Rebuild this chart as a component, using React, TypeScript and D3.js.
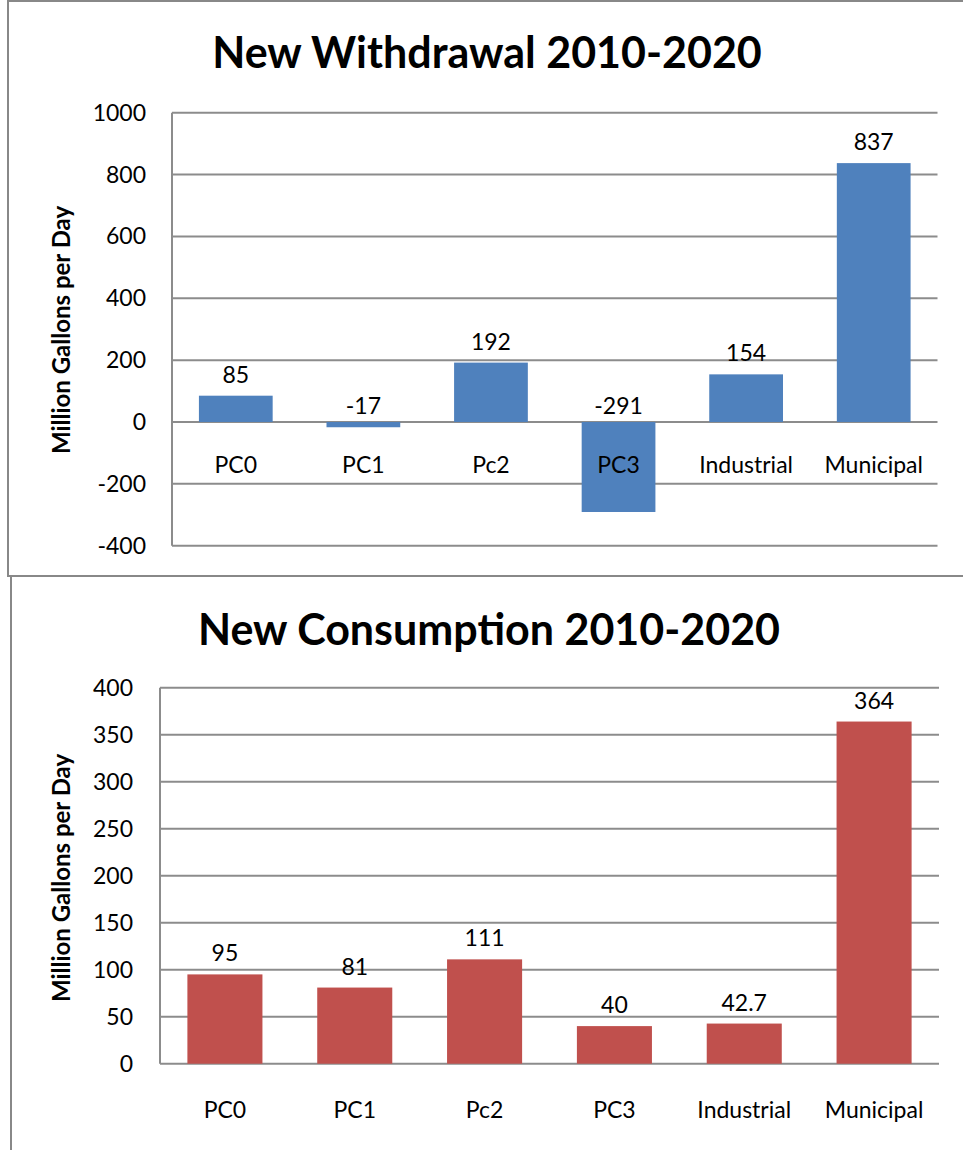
import React from "react";
import * as d3 from "d3";

const categories = ["PC0", "PC1", "Pc2", "PC3", "Industrial", "Municipal"];
const withdrawalValues = [85, -17, 192, -291, 154, 837];
const consumptionValues = [95, 81, 111, 40, 42.7, 364];
const withdrawalTicks = [-400, -200, 0, 200, 400, 600, 800, 1000];
const consumptionTicks = [0, 50, 100, 150, 200, 250, 300, 350, 400];
const withdrawalTitle = "New Withdrawal 2010-2020";
const consumptionTitle = "New Consumption 2010-2020";
const yAxisTitle = "Million Gallons per Day";

const FONT = "Lato, 'Open Sans', sans-serif";
const GRID = "#8c8c8c";

type PanelProps = {
  title: string;
  values: number[];
  ticks: number[];
  color: string;
  x0: number;
  x1: number;
  yTop: number;
  yBottom: number;
  titleX: number;
  titleY: number;
  yTitleY: number;
  tickRight: number;
  catDy: number;
};

function Panel(p: PanelProps) {
  const gap = 0.73;
  const x = d3
    .scaleBand<string>()
    .domain(categories)
    .range([p.x0, p.x1])
    .paddingInner(gap / (1 + gap))
    .paddingOuter(gap / (1 + gap) / 2);
  const y = d3
    .scaleLinear()
    .domain([d3.min(p.ticks)!, d3.max(p.ticks)!])
    .range([p.yBottom, p.yTop]);
  const y0 = y(0);
  const fmt = (v: number) => String(v);
  return (
    <g>
      <text
        x={p.titleX}
        y={p.titleY}
        textAnchor="middle"
        fontFamily={FONT}
        fontWeight="bold"
        fontSize={43}
        fill="#000"
      >
        {p.title}
      </text>
      <text
        transform={`translate(70,${p.yTitleY}) rotate(-90)`}
        textAnchor="middle"
        fontFamily={FONT}
        fontWeight="bold"
        fontSize={24}
        fill="#000"
      >
        {yAxisTitle}
      </text>
      {p.ticks.map((t) => (
        <g key={t}>
          <line x1={p.x0} x2={p.x1} y1={y(t)} y2={y(t)} stroke={GRID} strokeWidth={2} />
          <text
            x={p.tickRight}
            y={y(t)}
            dy="0.35em"
            textAnchor="end"
            fontFamily={FONT}
            fontSize={23}
            fill="#000"
          >
            {fmt(t)}
          </text>
        </g>
      ))}
      <line x1={p.x0} x2={p.x0} y1={p.yTop} y2={p.yBottom} stroke={GRID} strokeWidth={2} />
      {p.values.map((v, i) => {
        const c = categories[i];
        const bx = x(c)!;
        const top = Math.min(y(v), y0);
        const h = Math.abs(y(v) - y0);
        return (
          <rect key={c} x={bx} y={top} width={x.bandwidth()} height={h} fill={p.color} />
        );
      })}
      {p.values.map((v, i) => {
        const c = categories[i];
        const cx = x(c)! + x.bandwidth() / 2;
        const ly = v >= 0 ? y(v) - 21 : y0 - 16;
        return (
          <text
            key={"l" + c}
            x={cx}
            y={ly}
            dy="0.35em"
            textAnchor="middle"
            fontFamily={FONT}
            fontSize={23}
            fill="#000"
          >
            {fmt(v)}
          </text>
        );
      })}
      {categories.map((c) => (
        <text
          key={"c" + c}
          x={x(c)! + x.bandwidth() / 2}
          y={y0 + p.catDy}
          dy="0.35em"
          textAnchor="middle"
          fontFamily={FONT}
          fontSize={23}
          fill="#000"
        >
          {c}
        </text>
      ))}
    </g>
  );
}

export default function App() {
  return (
    <svg
      width={963}
      height={1150}
      style={{ position: "absolute", left: 0, top: 0, background: "#fff" }}
    >
      <rect x={0} y={0} width={963} height={1150} fill="#fff" />
      <Panel
        title={withdrawalTitle}
        values={withdrawalValues}
        ticks={withdrawalTicks}
        color="#4F81BD"
        x0={172}
        x1={937.5}
        yTop={112.7}
        yBottom={545.7}
        titleX={487}
        titleY={68}
        yTitleY={330}
        tickRight={146}
        catDy={43}
      />
      <Panel
        title={consumptionTitle}
        values={consumptionValues}
        ticks={consumptionTicks}
        color="#C0504D"
        x0={160}
        x1={939}
        yTop={687.7}
        yBottom={1063.7}
        titleX={489}
        titleY={645}
        yTitleY={878}
        tickRight={133}
        catDy={46}
      />
      {/* chart frames */}
      <polyline points="8,1150 8,1 963,1" fill="none" stroke="#888" strokeWidth={2} />
      <line x1={8} x2={963} y1={576} y2={576} stroke="#888" strokeWidth={2} />
      <rect x={0} y={577} width={10} height={573} fill="#fff" />
      <line x1={11} x2={11} y1={577} y2={1150} stroke="#888" strokeWidth={2} />
    </svg>
  );
}
